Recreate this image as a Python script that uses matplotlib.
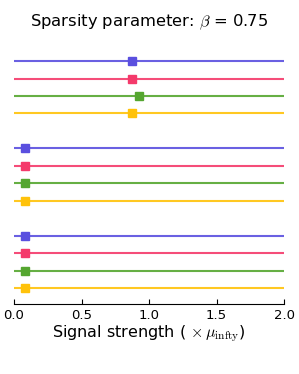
import matplotlib

matplotlib.use("Agg")
import matplotlib.pyplot as plt

# Marker estimates per method, grouped in three blocks of four
METHOD_COLORS = ["#5a4fdf", "#f43a6b", "#55a630", "#ffc20a"]
GROUP_ESTIMATES = [
    [0.875, 0.875, 0.925, 0.875],
    [0.08, 0.08, 0.08, 0.08],
    [0.08, 0.08, 0.08, 0.08],
]
X_MIN, X_MAX = 0.0, 2.0
X_TICKS = [0.0, 0.5, 1.0, 1.5, 2.0]

plt.rcParams["mathtext.fontset"] = "cm"

fig = plt.figure(figsize=(2.99, 3.74), dpi=100)
ax = fig.add_axes([0.047, 0.187, 0.903, 0.6925])

row = 0
for group in GROUP_ESTIMATES:
    for color, est in zip(METHOD_COLORS, group):
        ax.hlines(row, X_MIN, X_MAX, color=color, linewidth=1.5, alpha=0.9)
        ax.plot(est, row, marker="s", markersize=5.5, color=color,
                linestyle="none", zorder=3)
        row += 1
    row += 1  # gap between groups

# rows used: 0..3, 5..8, 10..13
ax.set_xlim(X_MIN, X_MAX)
ax.set_ylim(row - 2 + 0.92, -0.92)
ax.set_xticks(X_TICKS)
ax.set_xticklabels([f"{t:.1f}" for t in X_TICKS], fontsize=9.5)
ax.set_yticks([])
for side in ("top", "right", "left"):
    ax.spines[side].set_visible(False)
ax.spines["bottom"].set_linewidth(0.8)
ax.tick_params(axis="x", direction="in", length=3.5, width=0.8, pad=3.5)

ax.set_xlabel(r"Signal strength ( $\times\,\mu_{\rm infty}$)", fontsize=11.5, labelpad=1)
fig.suptitle(r"Sparsity parameter: $\beta$ = 0.75", fontsize=11.8, y=0.965)

fig.savefig("out.png", dpi=100)
